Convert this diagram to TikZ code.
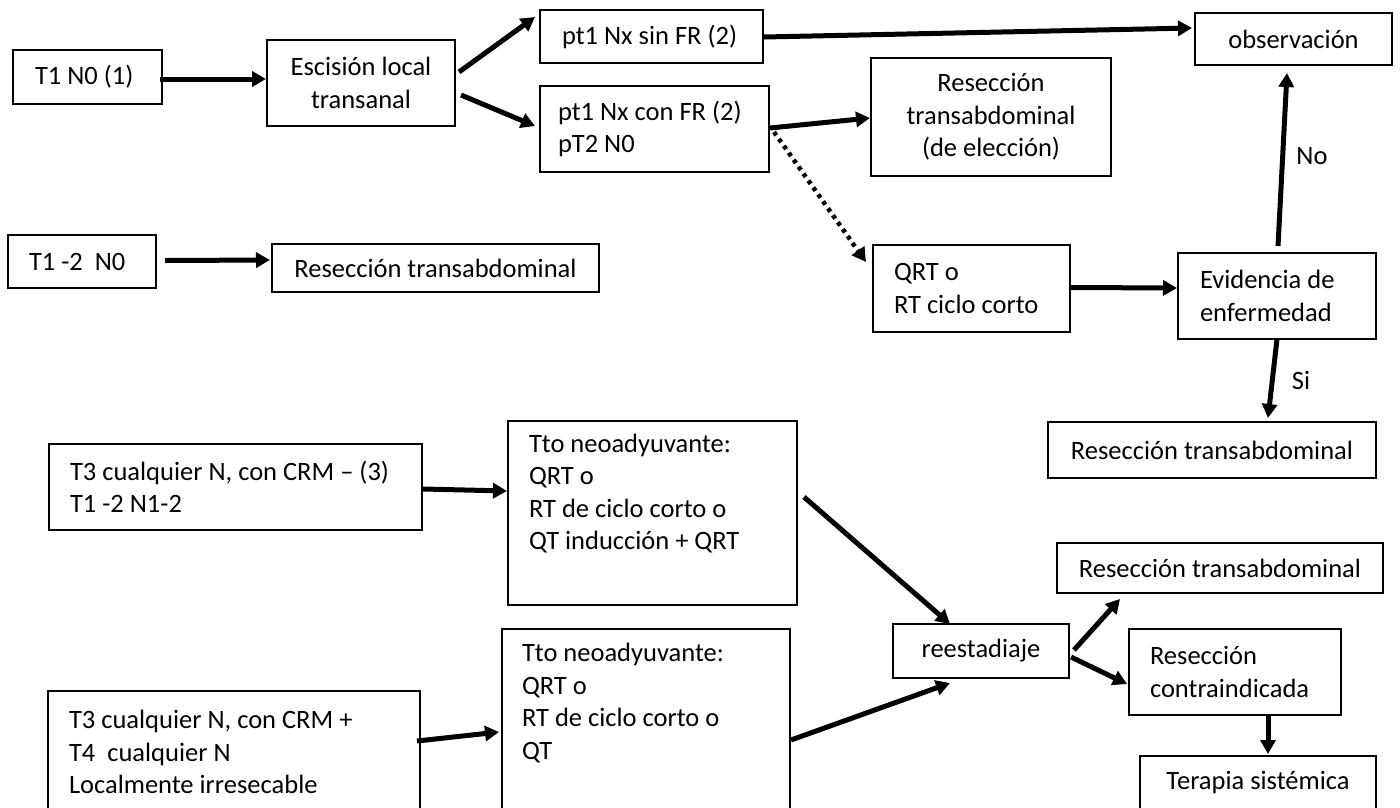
\documentclass[tikz,border=0pt]{standalone}
\usepackage{fontspec}
\setmainfont{Carlito}
\usetikzlibrary{arrows.meta,calc}
\begin{document}
\begin{tikzpicture}[x=1pt,y=-1pt,
  txt/.style={font=\fontsize{26.5}{32.5}\selectfont},
  box/.style={txt, draw=black, line width=2pt, inner sep=0pt, align=center,
    execute at begin node={\spaceskip=0pt\xspaceskip=0pt\relax}},
  lbox/.style={box, align=left, inner ysep=0pt},
  arr/.style={line width=5pt, -{Triangle[length=14pt,width=15pt]}},
  dotarr/.style={arr, line width=4.5pt, dash pattern=on 4pt off 4.5pt}
]
% page
\path[fill=white, use as bounding box] (0,0) rectangle (1400,807);

% boxes
\node[lbox, inner xsep=22pt, text width=105pt, minimum height=54pt] (a) at (87.5,77) {T1 N0 (1)};
\node[box, minimum width=188pt, minimum height=86pt] (b) at (361,83) {Escisión local\\transanal};
\node[lbox, inner xsep=22pt, text width=179pt, minimum height=53pt] (c) at (651.5,36.5) {pt1 Nx sin FR (2)};
\node[lbox, inner xsep=18pt, text width=193pt, minimum height=86pt] (d) at (654.5,129) {pt1 Nx con FR (2)\\pT2 N0};
\node[box, minimum width=240pt, minimum height=118pt] (e) at (991,117) {Resección\\transabdominal\\(de elección)};
\node[box, minimum width=197pt, minimum height=52pt] (f) at (1293.5,39) {observación};
\node[lbox, inner xsep=21.5pt, text width=105.5pt, minimum height=53pt] (g) at (81.75,261.5) {T1 -2\ \ N0};
\node[box, minimum width=327pt, minimum height=48pt] (h) at (435.5,268) {Resección transabdominal};
\node[lbox, inner xsep=21pt, text width=155pt, minimum height=87pt] (i) at (971.5,288.5) {QRT o\\RT ciclo corto};
\node[lbox, inner xsep=22pt, text width=154pt, minimum height=86pt] (j) at (1277,296) {Evidencia de\\enfermedad};
\node[box, minimum width=328pt, minimum height=56pt] (k) at (1212,450) {Resección transabdominal};
\node[lbox, inner xsep=21pt, text width=331pt, minimum height=86pt] (l) at (235.5,487) {T3 cualquier N, con CRM – (3)\\T1 -2 N1-2};
\node[lbox, inner xsep=21pt, text width=247pt, minimum height=184pt] (m) at (652.5,513) {Tto neoadyuvante:\\QRT o\\RT de ciclo corto o\\QT inducción + QRT\\\strut};
\node[lbox, inner xsep=21pt, text width=330pt, minimum height=122pt] (n) at (234,752) {T3 cualquier N, con CRM +\\T4\ \ cualquier N\\Localmente irresecable};
\node[lbox, inner xsep=20pt, text width=248pt, minimum height=187pt] (o) at (646,722.5) {Tto neoadyuvante:\\QRT o\\RT de ciclo corto o\\QT\\\strut};
\node[box, minimum width=176pt, minimum height=54pt] (p) at (981,651) {reestadiaje};
\node[box, minimum width=326pt, minimum height=50pt] (q) at (1220,568) {Resección transabdominal};
\node[lbox, inner xsep=21pt, text width=170pt, minimum height=86pt] (r) at (1235,672) {Resección\\contraindicada};
\node[box, minimum width=236pt, minimum height=54pt] (s) at (1258,783) {Terapia sistémica};

% branch labels
\node[txt] (no) at (1312,156) {No};
\node[txt] (si) at (1301,380) {Si};

% connectors
\draw[arr] ($(a.east)+(-3,2)$) -- ($(b.west)+(0,-4)$);
\draw[arr] ($(b.east)+(3,-11)$) -- ($(c.west)+(-4,-19.5)$);
\draw[arr] ($(b.east)+(5,12)$) -- ($(d.west)+(-4,-3)$);
\draw[arr] ($(c.east)+(0,0.5)$) -- ($(f.west)+(-2,-11)$);
\draw[arr] ($(d.east)+(0,-1)$) -- ($(e.west)+(0,1)$);
\draw[dotarr] ($(d.east)+(4,3)$) -- ($(i.north west)+(-6,18)$);
\draw[arr] ($(i.east)+(0,-1)$) -- ($(j.west)+(0,-8)$);
\draw[arr] ($(j.north)+(1,-6)$) -- ($(f.south)+(-6.5,7)$);
\draw[arr] ($(j.south)+(0,-1)$) -- ($(k.north)+(56,-3)$);
\draw[arr] ($(g.east)+(8,-1)$) -- ($(h.west)+(-1,-8)$);
\draw[arr] ($(l.east)+(0,2)$) -- ($(m.west)+(0,-22)$);
\draw[arr] ($(n.east)+(-4,-11)$) -- ($(o.west)+(-2,9.5)$);
\draw[arr] ($(m.east)+(6,-16)$) -- ($(p.north)+(-31,1)$);
\draw[arr] ($(o.east)+(0,17.5)$) -- ($(p.south)+(-31,4)$);
\draw[arr] ($(p.east)+(4,-1)$) -- ($(q.south)+(-100,5)$);
\draw[arr] ($(p.east)+(1,6)$) -- ($(r.west)+(-1,12)$);
\draw[arr] ($(r.south)+(33,-1)$) -- ($(s.north)+(10,-1)$);
\end{tikzpicture}
\end{document}
